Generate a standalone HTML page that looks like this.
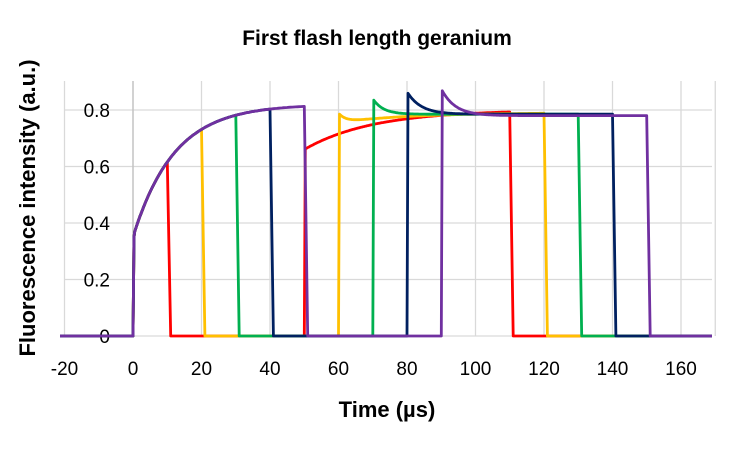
<!DOCTYPE html><html><head><style>body{margin:0;background:#fff}svg text{font-family:"Liberation Sans",sans-serif}</style></head><body>
<svg id="s" width="754" height="454" xmlns="http://www.w3.org/2000/svg">
<defs><clipPath id="c"><rect x="60" y="60" width="652" height="290"/></clipPath></defs>
<rect width="754" height="454" fill="#fff"/>
<g id="grid" stroke="#d9d9d9" stroke-width="1.3"></g>
<g id="lab" font-size="19" fill="#000"></g>
<g id="ser" fill="none" stroke-width="2.8" stroke-linejoin="round" clip-path="url(#c)"></g>
<text x="377" y="45" font-size="21" font-weight="bold" text-anchor="middle">First flash length geranium</text>
<text x="387" y="417" font-size="22" font-weight="bold" text-anchor="middle">Time (µs)</text>
<text transform="translate(35,208) rotate(-90)" font-size="22" font-weight="bold" text-anchor="middle">Fluorescence intensity (a.u.)</text>
</svg>
<script>
var X=function(t){return 133+3.425*t},Y=function(v){return 336-v*282.5};
var g=document.getElementById('grid'),l=document.getElementById('lab'),S=document.getElementById('ser'),ns='http://www.w3.org/2000/svg';
function el(p,n,a,tx){var e=document.createElementNS(ns,n);for(var k in a)e.setAttribute(k,a[k]);if(tx!=null)e.textContent=tx;p.appendChild(e);}
for(var t=-20;t<=160;t+=20){el(g,'line',{x1:X(t),x2:X(t),y1:81,y2:336});el(l,'text',{x:X(t),y:375,'text-anchor':'middle'},t);}
el(g,'line',{x1:X(170),x2:X(170),y1:81,y2:336});
for(var i=0;i<=4;i++){var v=i*0.2;el(g,'line',{x1:65,x2:712,y1:Y(v),y2:Y(v)});el(l,'text',{x:110,y:Y(v)+7,'text-anchor':'end'},i==0?'0':v.toFixed(1));}
el(g,'line',{x1:X(0),x2:X(0),y1:81,y2:336,stroke:'#bfbfbf'});
function rise(t){return 0.35+0.47*(1-Math.exp(-t/12));}
var cols=['#ff0000','#ffc000','#00b050','#002060','#7030a0'];
var sec=[
function(u){return 0.66+0.14*(1-Math.exp(-u/20));},
function(u){return 0.755+0.035*Math.exp(-u/2)+0.035*(1-Math.exp(-u/20));},
function(u){return 0.785+0.055*Math.exp(-u/3);},
function(u){return 0.785+0.08*Math.exp(-u/4);},
function(u){return 0.78+0.095*Math.exp(-u/4);}];
for(var k=0;k<5;k++){
 var L=10*(k+1),s2=L+40,e2=s2+60,p=[];
 p.push([-22,0],[0,0],[0.3,0.35]);
 for(var t=0.5;t<=L;t+=0.5)p.push([t,rise(t)]);
 p.push([L+1,0],[s2,0]);
 for(var u=0.3;u<=60;u+=0.3){p.push([s2+u,sec[k](u)]);}
 p.push([e2+1,0],[172,0]);
 el(S,'polyline',{stroke:cols[k],points:p.map(function(q){return X(q[0]).toFixed(1)+','+Y(q[1]).toFixed(1)}).join(' ')});
}
</script></body></html>
